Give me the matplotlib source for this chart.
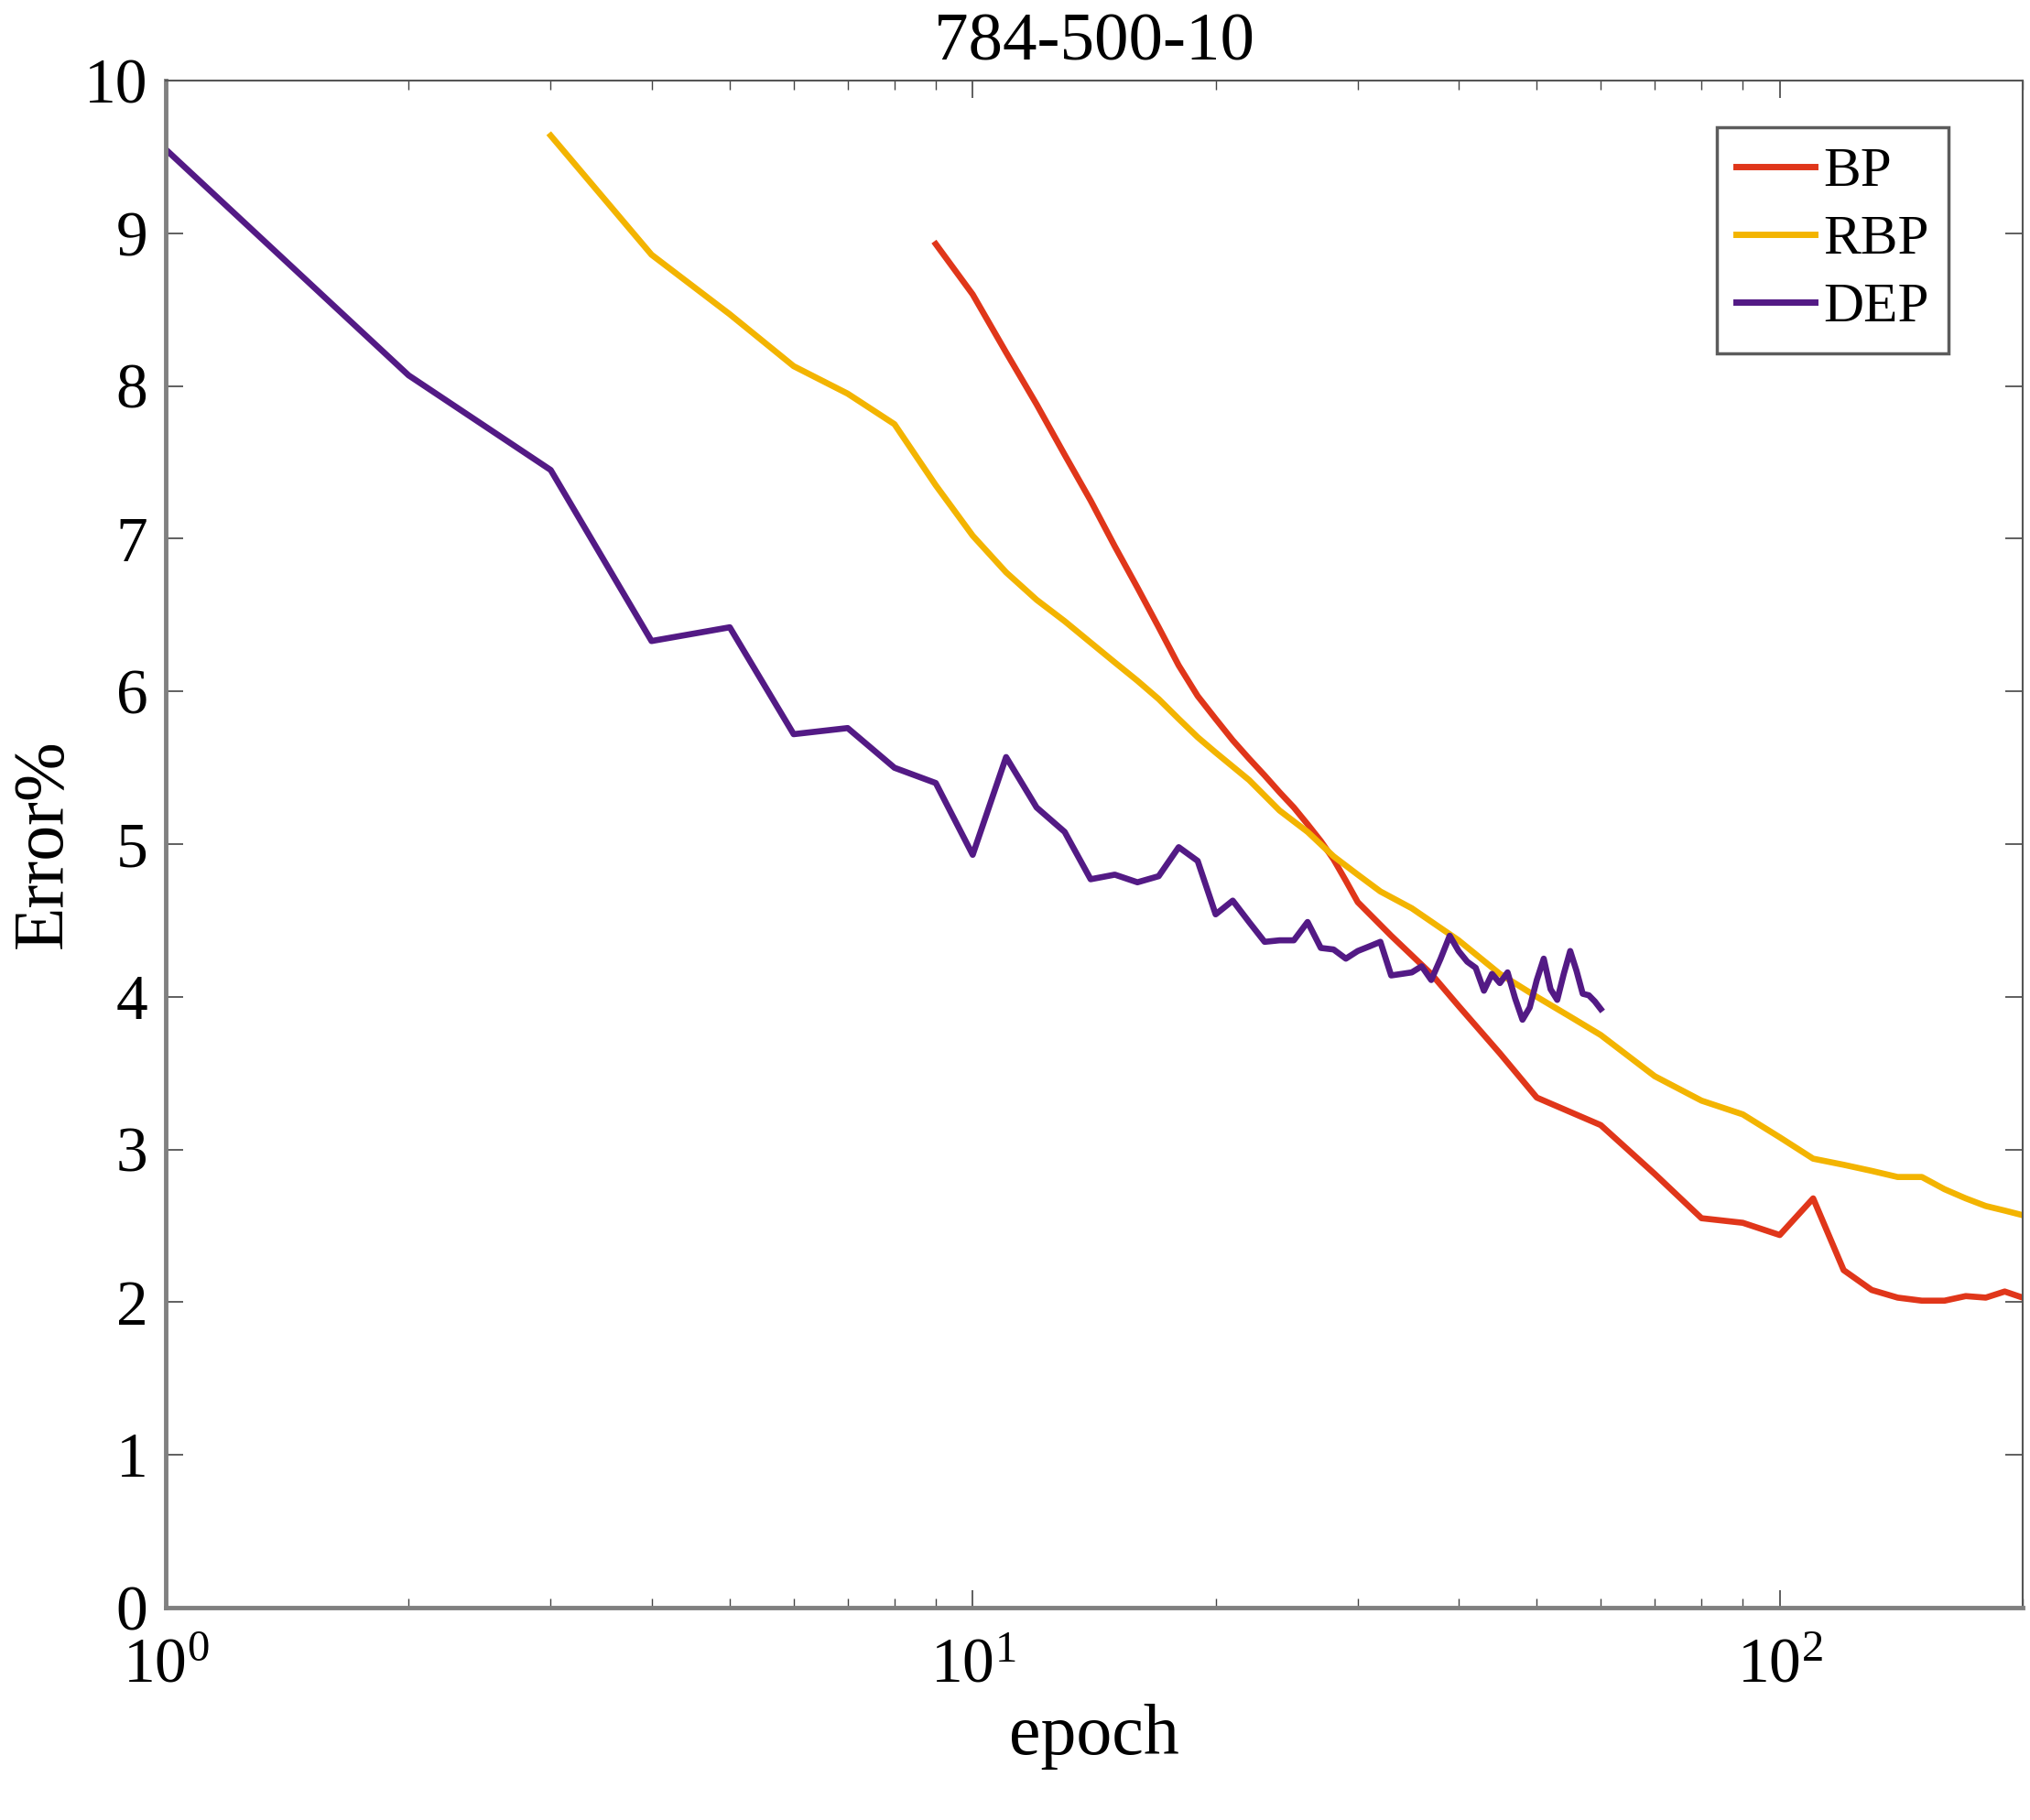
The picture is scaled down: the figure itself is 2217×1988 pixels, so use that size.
import matplotlib
matplotlib.use('Agg')
import matplotlib.pyplot as plt
from matplotlib.ticker import LogLocator, NullFormatter, MultipleLocator

plt.rcParams['font.family'] = ['Liberation Serif', 'DejaVu Serif']
plt.rcParams['mathtext.fontset'] = 'stix'

# BP curve
bp_epoch = [9, 10, 11, 12, 13, 14, 15, 16, 17, 18, 19, 20, 21, 22, 23, 24, 25, 26, 27, 28, 29, 30,
            33, 37, 40, 45, 50, 60, 70, 80, 90, 100, 110, 120, 130, 140, 150, 160, 170, 180, 190, 200]
bp_err = [8.93, 8.60, 8.22, 7.88, 7.55, 7.25, 6.95, 6.68, 6.42, 6.17, 5.97, 5.82, 5.68, 5.56, 5.45, 5.34,
          5.24, 5.13, 5.02, 4.90, 4.76, 4.62, 4.40, 4.15, 3.94, 3.63, 3.34, 3.16, 2.84, 2.55, 2.52, 2.44,
          2.68, 2.21, 2.08, 2.03, 2.01, 2.01, 2.04, 2.03, 2.07, 2.03]

# RBP curve
rbp_epoch = [3, 4, 5, 6, 7, 8, 9, 10, 11, 12, 13, 14, 15, 16, 17, 18, 19, 20, 22, 24, 26, 28, 30, 32,
             35, 40, 45, 50, 55, 60, 70, 80, 90, 100, 110, 120, 130, 140, 150, 160, 170, 180, 190, 200]
rbp_err = [9.64, 8.86, 8.47, 8.13, 7.95, 7.75, 7.35, 7.02, 6.78, 6.60, 6.46, 6.32, 6.19, 6.07, 5.95,
           5.82, 5.70, 5.60, 5.42, 5.22, 5.08, 4.92, 4.80, 4.69, 4.58, 4.37, 4.15, 4.00, 3.87, 3.75,
           3.48, 3.32, 3.23, 3.08, 2.94, 2.90, 2.86, 2.82, 2.82, 2.74, 2.68, 2.63, 2.60, 2.57]

# DEP curve, epochs 1..60
dep_epoch = list(range(1, 61))
dep_err = [9.55, 8.07, 7.45, 6.33, 6.42, 5.72, 5.76, 5.50, 5.40, 4.93,
           5.57, 5.24, 5.08, 4.77, 4.80, 4.75, 4.79, 4.98, 4.89, 4.54,
           4.63, 4.49, 4.36, 4.37, 4.37, 4.49, 4.32, 4.31, 4.25, 4.30,
           4.33, 4.36, 4.14, 4.15, 4.16, 4.20, 4.11, 4.25, 4.40, 4.30,
           4.23, 4.19, 4.04, 4.15, 4.09, 4.16, 3.99, 3.85, 3.93, 4.11,
           4.25, 4.05, 3.98, 4.15, 4.30, 4.17, 4.02, 4.01, 3.97, 3.92]

fig = plt.figure(figsize=(22.17, 19.88), dpi=100)
ax = fig.add_axes([0.0816, 0.1167, 0.9148, 0.8390])

ax.plot(bp_epoch, bp_err, color='#e0361a', lw=4.8, label='BP')
ax.plot(rbp_epoch, rbp_err, color='#f3b400', lw=4.8, label='RBP')
ax.plot(dep_epoch, dep_err, color='#531a85', lw=4.8, label='DEP')

ax.set_xscale('log')
ax.set_xlim(1, 200)
ax.set_ylim(0, 10)
ax.yaxis.set_major_locator(MultipleLocator(1))
ax.xaxis.set_major_locator(LogLocator(base=10))
ax.xaxis.set_minor_locator(LogLocator(base=10, subs=range(2, 10)))
ax.xaxis.set_minor_formatter(NullFormatter())

ax.tick_params(which='both', direction='in', top=True, right=True)
ax.tick_params(which='major', length=14, width=1.2, labelsize=50, color='#444444')
ax.tick_params(axis='y', which='major', pad=14)
ax.tick_params(axis='x', which='major', pad=24)
ax.tick_params(which='minor', length=7, width=1.0, color='#444444')

for side in ['top', 'right']:
    ax.spines[side].set_linewidth(1.5)
    ax.spines[side].set_color('#555555')
for side in ['left', 'bottom']:
    ax.spines[side].set_linewidth(3.5)
    ax.spines[side].set_color('#808080')

ax.set_title('784-500-10', fontsize=54, pad=16)
ax.set_xlabel('epoch', fontsize=56, labelpad=6)
ax.set_ylabel('Error%', fontsize=56, labelpad=6)

leg = ax.legend(loc='upper right', bbox_to_anchor=(0.960, 0.9695), borderaxespad=0,
                fontsize=44, frameon=True, fancybox=False,
                handlelength=1.4, handletextpad=0.15, borderpad=0.35, labelspacing=0.3)
leg.get_frame().set_edgecolor('#333333')
leg.get_frame().set_linewidth(2.5)
for line in leg.get_lines():
    line.set_linewidth(5)

fig.savefig('out.png', dpi=100)
